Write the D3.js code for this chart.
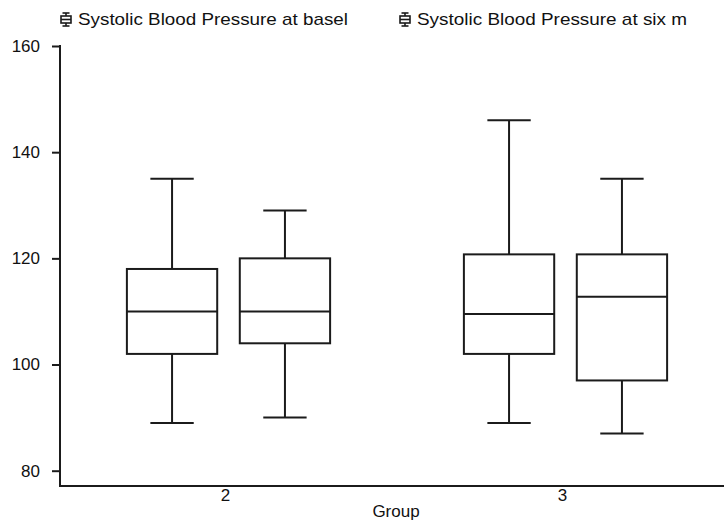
<!DOCTYPE html>
<html>
<head>
<meta charset="utf-8">
<script src="https://cdn.jsdelivr.net/npm/d3@7"></script>
<style>
  html, body { margin: 0; padding: 0; background: #fff; }
  svg { display: block; }
  text { font-family: "Liberation Sans", Arial, sans-serif; fill: #111; }
</style>
</head>
<body>
<svg id="chart" width="724" height="525"></svg>
<script>
// ---- data ----
const groups = ["2", "3"];
const series = ["Systolic Blood Pressure at basel", "Systolic Blood Pressure at six m"];
const mins    = [[89, 90], [89, 87]];
const q1s     = [[102, 104], [102, 97]];
const medians = [[110, 110], [109.5, 112.75]];
const q3s     = [[118, 120], [120.75, 120.75]];
const maxs    = [[135, 129], [146, 135]];
const yTicks  = [80, 100, 120, 140, 160];
const xTitle  = "Group";

// ---- layout ----
const W = 724, H = 525;
const plotLeft = 60, axisY = 486, plotTop = 46;
const svg = d3.select("#chart");
const ink = "#1b1b1b";

const y = d3.scaleLinear().domain([80, 160]).range([470.7, plotTop]);
const x = d3.scaleBand().domain(groups).range([plotLeft, plotLeft + 674]);
const xi = d3.scaleBand().domain(series)
  .range([x.bandwidth() * 0.165, x.bandwidth() * 0.835])
  .paddingInner(0.2).paddingOuter(0.1);

// boxes
const boxes = [];
groups.forEach((g, gi) => series.forEach((s, si) => boxes.push({
  g, s, min: mins[gi][si], q1: q1s[gi][si], med: medians[gi][si], q3: q3s[gi][si], max: maxs[gi][si]
})));

const bw = xi.bandwidth();
const capW = bw * 0.48;
const bg = svg.append("g").attr("stroke", ink).attr("stroke-width", 2).attr("fill", "#fff");
boxes.forEach(b => {
  const x0 = x(b.g) + xi(b.s);
  const cx = x0 + bw / 2;
  const g = bg.append("g");
  g.append("line").attr("x1", cx).attr("x2", cx).attr("y1", y(b.max)).attr("y2", y(b.q3));
  g.append("line").attr("x1", cx).attr("x2", cx).attr("y1", y(b.q1)).attr("y2", y(b.min));
  g.append("line").attr("x1", cx - capW / 2).attr("x2", cx + capW / 2).attr("y1", y(b.max)).attr("y2", y(b.max));
  g.append("line").attr("x1", cx - capW / 2).attr("x2", cx + capW / 2).attr("y1", y(b.min)).attr("y2", y(b.min));
  g.append("rect").attr("x", x0).attr("y", y(b.q3)).attr("width", bw).attr("height", y(b.q1) - y(b.q3));
  g.append("line").attr("x1", x0).attr("x2", x0 + bw).attr("y1", y(b.med)).attr("y2", y(b.med));
});

// y axis
const yAxis = d3.axisLeft(y).tickValues(yTicks).tickSize(8).tickSizeOuter(0).tickPadding(12);
const ya = svg.append("g").attr("transform", `translate(${plotLeft},0)`).call(yAxis);
ya.select(".domain").remove();
ya.selectAll(".tick line").attr("stroke", ink).attr("stroke-width", 2);
ya.selectAll(".tick text").attr("font-size", 17).attr("font-family", "Liberation Sans, Arial, sans-serif").attr("fill", "#111");
svg.append("line").attr("x1", plotLeft).attr("x2", plotLeft).attr("y1", y(160) - 1).attr("y2", axisY)
  .attr("stroke", ink).attr("stroke-width", 2);

// x axis
const xAxis = d3.axisBottom(x).tickSize(0).tickPadding(3);
const xa = svg.append("g").attr("transform", `translate(0,${axisY})`).call(xAxis);
xa.select(".domain").remove();
xa.selectAll(".tick text").attr("font-size", 17).attr("dx", -3)
  .attr("font-family", "Liberation Sans, Arial, sans-serif").attr("fill", "#111");
svg.append("line").attr("x1", plotLeft - 1).attr("x2", W).attr("y1", axisY).attr("y2", axisY)
  .attr("stroke", ink).attr("stroke-width", 2);

svg.append("text").attr("x", 396).attr("y", 517).attr("text-anchor", "middle")
  .attr("font-size", 17).text(xTitle);

// legend
const legX = [60, 399];
series.forEach((s, i) => {
  const lg = svg.append("g").attr("transform", `translate(${legX[i]},19)`);
  const ic = lg.append("g").attr("stroke", ink).attr("stroke-width", 1.6).attr("fill", "#fff");
  ic.append("line").attr("x1", 6).attr("x2", 6).attr("y1", -6).attr("y2", 7);
  ic.append("line").attr("x1", 2.5).attr("x2", 9.5).attr("y1", -6).attr("y2", -6);
  ic.append("line").attr("x1", 2.5).attr("x2", 9.5).attr("y1", 7).attr("y2", 7);
  ic.append("rect").attr("x", 1).attr("y", -3).attr("width", 10).attr("height", 7);
  ic.append("line").attr("x1", 1).attr("x2", 11).attr("y1", 0.5).attr("y2", 0.5);
  lg.append("text").attr("x", 18).attr("y", 6).attr("font-size", 17)
    .attr("textLength", 270).attr("lengthAdjust", "spacingAndGlyphs").text(s);
});
</script>
</body>
</html>
